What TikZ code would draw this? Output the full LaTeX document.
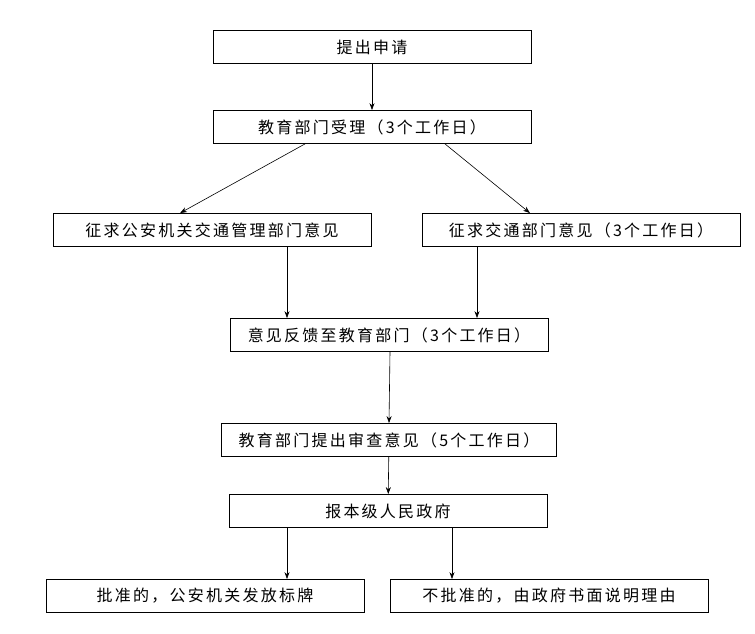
\documentclass[tikz,border=0pt]{standalone}
\usepackage{fontspec}
\setmainfont{Noto Sans CJK SC}[LetterSpace=14]
\usetikzlibrary{positioning,arrows.meta,calc}

\begin{document}
\begin{tikzpicture}[
    x=1pt, y=-1pt,
    SBox/.style={
        rectangle, draw, thick,
        minimum width=318pt, minimum height=33pt,
        font=\fontsize{16}{18}\selectfont
    },
    WBox/.style={
        SBox, minimum width=335pt
    },
    arr/.style={-{Stealth[length=7pt,width=5pt]}, semithick}
    ]
    \useasboundingbox (0,0) rectangle (755,633);
    \node[SBox] (apply) at (372,47) {提出申请};
    \node[SBox] (accept) at (372,127) {教育部门受理（3个工作日）};
    \node[SBox] (police) at (212,230) {征求公安机关交通管理部门意见};
    \node[SBox] (traffic) at (581,230) {征求交通部门意见（3个工作日）};
    \node[SBox] (feedback) at (389,335) {意见反馈至教育部门（3个工作日）};
    \node[WBox] (review) at (389,440) {教育部门提出审查意见（5个工作日）};
    \node[SBox] (gov) at (388,511) {报本级人民政府};
    \node[SBox] (yes) at (205,596) {批准的，公安机关发放标牌};
    \node[SBox] (no) at (549,596) {不批准的，由政府书面说明理由};

    \draw[arr] (apply) -- (accept);
    \draw[arr] ([xshift=-67pt]accept.south) -- ([xshift=-32pt]police.north);
    \draw[arr] ([xshift=73pt]accept.south) -- ([xshift=-51pt]traffic.north);
    \draw[arr] ([xshift=75pt]police.south) -- ([xshift=-102pt]feedback.north);
    \draw[arr] ([xshift=-104pt]traffic.south) -- ([xshift=88pt]feedback.north);
    \draw[arr] ([xshift=1pt]feedback.south) -- (review.north);
    \draw[arr] (review) -- (gov);
    \draw[arr] ([xshift=-101pt]gov.south) -- ([xshift=82pt]yes.north);
    \draw[arr] ([xshift=64pt]gov.south) -- ([xshift=-97pt]no.north);
\end{tikzpicture}
\end{document}
